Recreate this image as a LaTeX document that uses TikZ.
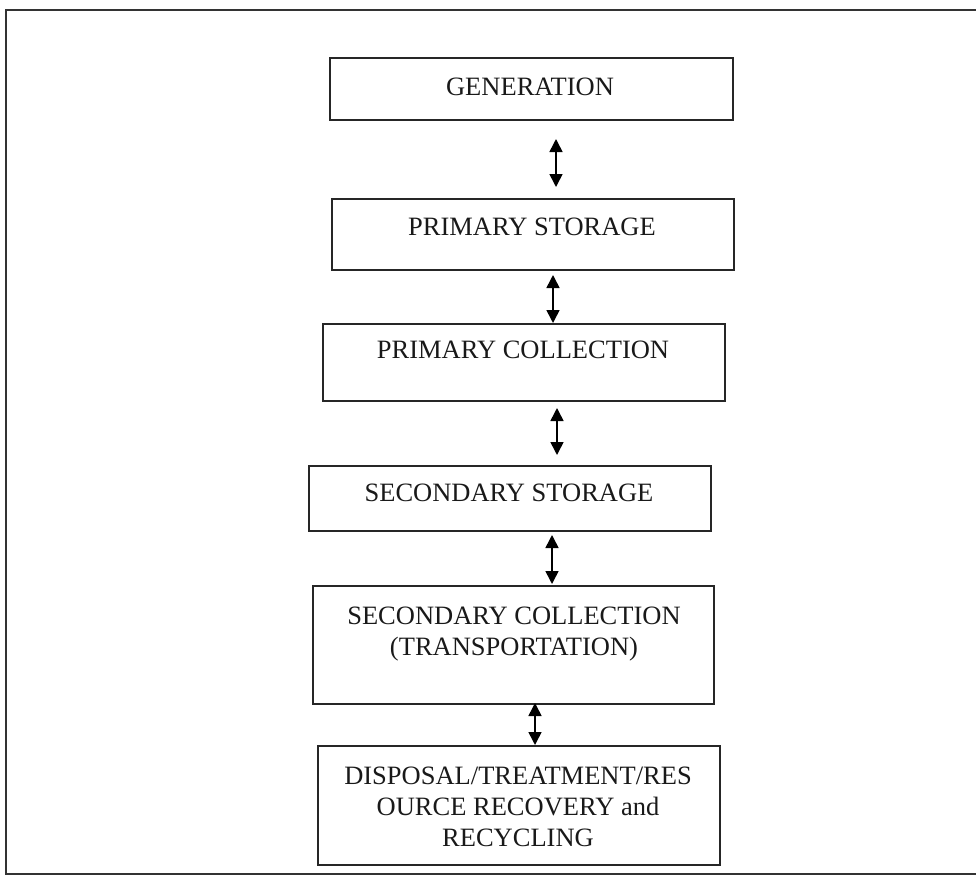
\documentclass[tikz,border=0pt]{standalone}
\usepackage{fontspec}
\setmainfont{Liberation Serif}
\usetikzlibrary{arrows.meta}
\begin{document}
\begin{tikzpicture}[x=1pt,y=-1pt,
  box/.style={draw=black!85, line width=1.8pt, rectangle, inner sep=0pt, anchor=north west},
  lbl/.style={font=\fontsize{26.5}{31}\selectfont, align=center, inner sep=0pt, text=black!90},
  dbl/.style={line width=1.6pt, {Triangle[width=13pt,length=13pt]}-{Triangle[width=13pt,length=13pt]}},
  frame/.style={line width=1.8pt, draw=black!80}]
\useasboundingbox (0,0) rectangle (976,881);
\begin{scope}
\clip (0,0) rectangle (976,881);
\draw[frame] (986,10) -- (6,10) -- (6,874) -- (986,874);
\end{scope}
% boxes
\node[box, minimum width=403pt, minimum height=62pt] (b1) at (329,57) {};
\node[box, minimum width=402pt, minimum height=71pt] (b2) at (331,198) {};
\node[box, minimum width=402pt, minimum height=77pt] (b3) at (322,323) {};
\node[box, minimum width=402pt, minimum height=65pt] (b4) at (308,465) {};
\node[box, minimum width=401pt, minimum height=118pt] (b5) at (312,585) {};
\node[box, minimum width=402pt, minimum height=119pt] (b6) at (317,745) {};
% labels
\node[lbl] (t1) at (530,87) {GENERATION};
\node[lbl] (t2) at (532,227) {PRIMARY STORAGE};
\node[lbl] (t3) at (523,350) {PRIMARY COLLECTION};
\node[lbl] (t4) at (509,493) {SECONDARY STORAGE};
\node[lbl] (t5) at (514,634) {SECONDARY COLLECTION\\(TRANSPORTATION)};
\node[lbl] (t6) at (518,807) {DISPOSAL/TREATMENT/RES\\OURCE RECOVERY and\\RECYCLING};
% connectors
\coordinate (a1s) at (556,139); \coordinate (a1e) at (556,187);
\coordinate (a2s) at (553,275); \coordinate (a2e) at (553,323);
\coordinate (a3s) at (557,408); \coordinate (a3e) at (557,455);
\coordinate (a4s) at (552,535); \coordinate (a4e) at (552,584);
\coordinate (a5s) at (535,703); \coordinate (a5e) at (535,745);
\draw[dbl] (a1s) -- (a1e);
\draw[dbl] (a2s) -- (a2e);
\draw[dbl] (a3s) -- (a3e);
\draw[dbl] (a4s) -- (a4e);
\draw[dbl] (a5s) -- (a5e);
\end{tikzpicture}
\end{document}
